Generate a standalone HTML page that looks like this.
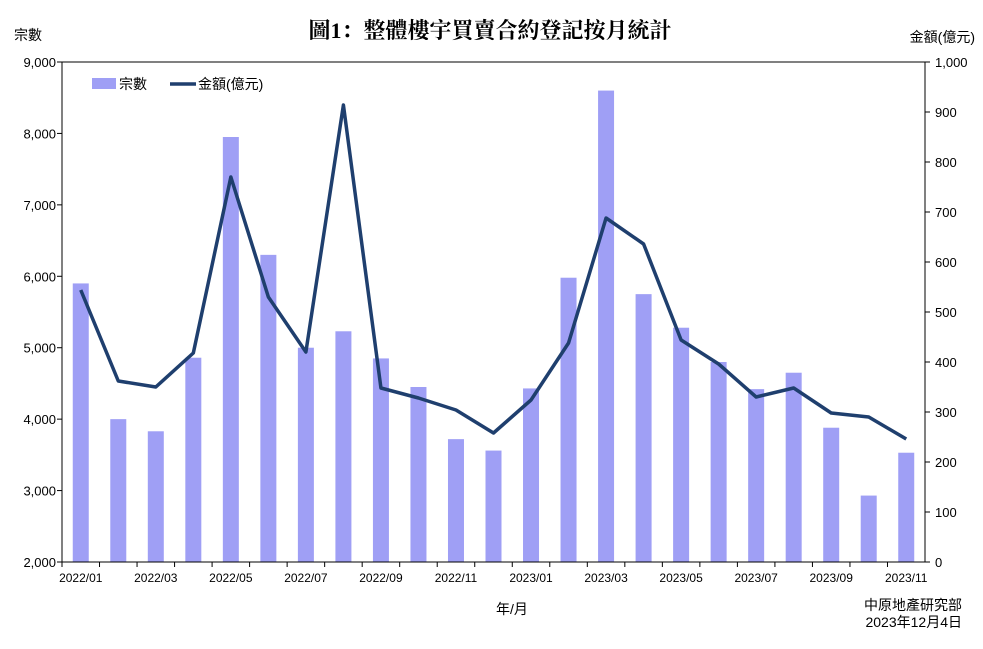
<!DOCTYPE html>
<html><head><meta charset="utf-8"><style>
body{margin:0;background:#fff;}
svg text{font-family:"Liberation Sans","Noto Sans CJK TC",sans-serif;fill:#000;}
</style></head><body>
<svg id="chart" width="983" height="644" xmlns="http://www.w3.org/2000/svg">
<text x="490" y="38" text-anchor="middle" font-size="22" font-weight="bold" style="font-family:'Liberation Serif','Noto Serif CJK SC',serif">圖1：整體樓宇買賣合約登記按月統計</text>
<text x="14" y="40" font-size="14">宗數</text>
<text x="975" y="42" font-size="14" text-anchor="end">金額(億元)</text>
<text x="512" y="614" font-size="14" text-anchor="middle">年/月</text>
<text x="962" y="610" font-size="14" text-anchor="end">中原地產研究部</text>
<text x="962" y="627" font-size="14" text-anchor="end">2023年12月4日</text>
<g id="plot"></g>
<g>
<rect x="92" y="78" width="24" height="11" fill="#9f9ff5"/>
<text x="119" y="89" font-size="14">宗數</text>
<line x1="170" y1="84" x2="196" y2="84" stroke="#1f3f6e" stroke-width="3.5"/>
<text x="198" y="89" font-size="14">金額(億元)</text>
</g>
</svg>
<script>
const categories=["2022/01","2022/02","2022/03","2022/04","2022/05","2022/06","2022/07","2022/08","2022/09","2022/10","2022/11","2022/12","2023/01","2023/02","2023/03","2023/04","2023/05","2023/06","2023/07","2023/08","2023/09","2023/10","2023/11"];
const counts=[5900,4000,3830,4860,7950,6300,5000,5230,4850,4450,3720,3560,4430,5980,8600,5750,5280,4800,4420,4650,3880,2930,3530];
const amounts=[544,362,350,418,770,530,420,914,348,328,304,258,324,438,688,636,444,396,330,348,298,290,246];
const leftTicks=[2000,3000,4000,5000,6000,7000,8000,9000];
const rightTicks=[0,100,200,300,400,500,600,700,800,900,1000];
const NS="http://www.w3.org/2000/svg";
const L=62,R=925,T=62,B=562;
const step=(R-L)/categories.length;
const xc=i=>L+step*(i+0.5);
const yl=v=>B-(v-2000)/7000*(B-T);
const yr=v=>B-v/1000*(B-T);
const g=document.getElementById('plot');
function mk(tag,attrs){const e=document.createElementNS(NS,tag);for(const k in attrs)e.setAttribute(k,attrs[k]);g.appendChild(e);return e;}
counts.forEach((v,i)=>{const e=mk('rect',{x:xc(i)-8,y:yl(v),width:16,height:B-yl(v),fill:'#9f9ff5'});

});
let a=mk('line',{x1:L,y1:T,x2:L,y2:B,stroke:'#000'});
a=mk('line',{x1:R,y1:T,x2:R,y2:B,stroke:'#000'});
a=mk('line',{x1:L,y1:T,x2:R,y2:T,stroke:'#000'});
a=mk('line',{x1:L,y1:B,x2:R,y2:B,stroke:'#000'});
leftTicks.forEach(v=>{mk('line',{x1:L-5,y1:yl(v),x2:L,y2:yl(v),stroke:'#000'});
const t=mk('text',{x:L-6,y:yl(v)+5,'font-size':13,'text-anchor':'end'});t.textContent=v.toLocaleString('en-US');
});
rightTicks.forEach(v=>{mk('line',{x1:R,y1:yr(v),x2:R+5,y2:yr(v),stroke:'#000'});
const t=mk('text',{x:R+10,y:yr(v)+5,'font-size':13});t.textContent=v.toLocaleString('en-US');
});
categories.forEach((c,i)=>{mk('line',{x1:L+step*i,y1:B,x2:L+step*i,y2:B+5,stroke:'#000'});
if(i%2===0){const t=mk('text',{x:xc(i),y:B+20,'font-size':12,'text-anchor':'middle'});t.textContent=c;
}});
const p=mk('polyline',{points:amounts.map((v,i)=>xc(i)+','+yr(v)).join(' '),fill:'none',stroke:'#1f3f6e','stroke-width':3.5,'stroke-linejoin':'round'});

</script>
</body></html>
